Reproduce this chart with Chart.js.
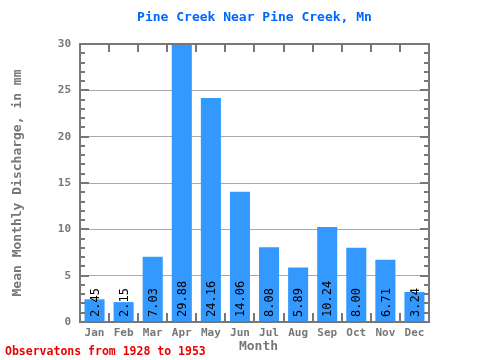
<!DOCTYPE html>
<html><head><meta charset="utf-8">
<script src="https://cdn.jsdelivr.net/npm/chart.js@4/dist/chart.umd.min.js"></script>
<style>html,body{margin:0;padding:0;background:#fff}#wrap{width:480px;height:360px}</style>
</head><body><div id="wrap"><canvas id="c" width="480" height="360"></canvas></div>
<script>
const months = ["Jan","Feb","Mar","Apr","May","Jun","Jul","Aug","Sep","Oct","Nov","Dec"];
const discharge = [2.45,2.15,7.03,29.88,24.16,14.06,8.08,5.89,10.24,8.00,6.71,3.24];
const valueLabels = ["2.45","2.15","7.03","29.88","24.16","14.06","8.08","5.89","10.24","8.00","6.71","3.24"];
const yTicks = [0,5,10,15,20,25,30];
const titleText = "Pine Creek Near Pine Creek, Mn";
const yTitle = "Mean Monthly Discharge, in mm";
const xTitle = "Month";
const footText = "Observatons from 1928 to 1953";

const MONO = '"DejaVu Sans Mono", "Liberation Mono", monospace';
const GRAY = '#777777';

const decor = {
  id: 'decor',
  afterDatasetsDraw(chart) {
    const ctx = chart.ctx, a = chart.chartArea, y = chart.scales.y, x = chart.scales.x;
    ctx.save();
    // value labels
    const meta = chart.getDatasetMeta(0);
    ctx.fillStyle = '#000';
    ctx.font = '12px ' + MONO;
    ctx.textAlign = 'left';
    ctx.textBaseline = 'middle';
    meta.data.forEach((bar, i) => {
      ctx.save();
      ctx.translate(bar.x, y.getPixelForValue(0) - 5);
      ctx.rotate(-Math.PI / 2);
      ctx.fillText(valueLabels[i], 0, 1);
      ctx.restore();
    });
    // frame
    ctx.strokeStyle = GRAY;
    ctx.lineWidth = 2;
    ctx.strokeRect(a.left, a.top, a.right - a.left, a.bottom - a.top);
    // minor/major ticks on left and right
    ctx.lineWidth = 2;
    ctx.beginPath();
    for (let v = 1; v < 30; v++) {
      const py = Math.round(y.getPixelForValue(v));
      const len = v % 5 === 0 ? 9 : 5;
      ctx.moveTo(a.left, py); ctx.lineTo(a.left + len, py);
      ctx.moveTo(a.right, py); ctx.lineTo(a.right - len, py);
    }
    // category boundary ticks top and bottom
    for (let i = 1; i < months.length; i++) {
      const px = Math.round((x.getPixelForValue(i - 1) + x.getPixelForValue(i)) / 2);
      ctx.moveTo(px, a.top); ctx.lineTo(px, a.top + 8);
      ctx.moveTo(px, a.bottom); ctx.lineTo(px, a.bottom - 9);
    }
    ctx.stroke();
    // title
    ctx.textAlign = 'center';
    ctx.textBaseline = 'middle';
    ctx.fillStyle = '#0066ff';
    ctx.font = 'bold 13px ' + MONO;
    ctx.fillText(titleText, (a.left + a.right) / 2, 18);
    // x title
    ctx.fillStyle = GRAY;
    ctx.font = 'bold 13px ' + MONO;
    ctx.fillText(xTitle, (a.left + a.right) / 2 + 4, 347);
    // y title
    ctx.save();
    ctx.translate(18, (a.top + a.bottom) / 2);
    ctx.rotate(-Math.PI / 2);
    ctx.fillText(yTitle, 0, 0);
    ctx.restore();
    // footer
    ctx.textAlign = 'left';
    ctx.fillStyle = '#ee0000';
    ctx.font = 'bold 11.5px ' + MONO;
    ctx.fillText(footText, 5, 352);
    ctx.restore();
  }
};

new Chart(document.getElementById('c'), {
  type: 'bar',
  data: {
    labels: months,
    datasets: [{
      data: discharge,
      backgroundColor: '#3399ff',
      borderWidth: 0,
      categoryPercentage: 1,
      barPercentage: 0.69
    }]
  },
  options: {
    responsive: false,
    animation: false,
    devicePixelRatio: 1,
    layout: { padding: { left: 0, top: 44, right: 51, bottom: 0 } },
    plugins: { legend: { display: false }, tooltip: { enabled: false }, title: { display: false } },
    scales: {
      x: {
        grid: { display: false, drawTicks: false },
        border: { display: false },
        ticks: { color: GRAY, font: { family: MONO, size: 11, weight: 'bold' }, padding: 5, maxRotation: 0 },
        afterFit(s) { s.height = 38; }
      },
      y: {
        min: 0, max: 30,
        afterBuildTicks(s) { s.ticks = yTicks.map(v => ({ value: v })); },
        grid: { color: '#aaaaaa', lineWidth: 1, drawTicks: false },
        border: { display: false },
        ticks: { color: GRAY, font: { family: MONO, size: 11, weight: 'bold' }, padding: 9 },
        afterFit(s) { s.width = 80; }
      }
    }
  },
  plugins: [decor]
});
</script></body></html>
